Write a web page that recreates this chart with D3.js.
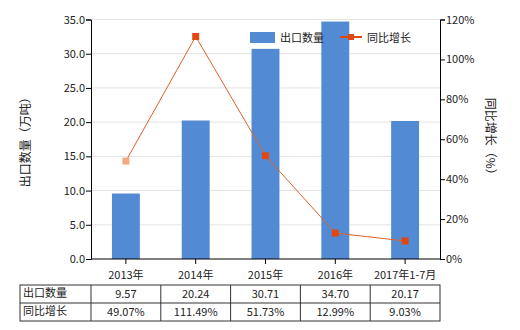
<!DOCTYPE html>
<html>
<head>
<meta charset="utf-8">
<script src="https://cdn.jsdelivr.net/npm/d3@7"></script>
<style>
  body { margin: 0; background: #fff; }
  text { font-family: "Noto Sans CJK SC", "Noto Sans", sans-serif; fill: #222; }
</style>
</head>
<body>
<div id="chart"></div>
<script>
// Data
const categories = ["2013年", "2014年", "2015年", "2016年", "2017年1-7月"];
const quantity = [9.57, 20.24, 30.71, 34.70, 20.17];
const growth = [49.07, 111.49, 51.73, 12.99, 9.03];
const leftTicks = [0, 5, 10, 15, 20, 25, 30, 35];
const rightTicks = [0, 20, 40, 60, 80, 100, 120];

const width = 520, height = 330;
const plotLeft = 91, plotRight = 440, plotTop = 19.5, plotBottom = 259;

const svg = d3.select("#chart").append("svg")
    .attr("width", width)
    .attr("height", height);

const x = d3.scaleBand().domain(categories).range([plotLeft, plotRight]).paddingInner(0.6).paddingOuter(0.3);
const yL = d3.scaleLinear().domain([0, 35]).range([plotBottom, plotTop]);
const yR = d3.scaleLinear().domain([0, 120]).range([plotBottom, plotTop]);

// gridlines
svg.append("g").selectAll("line").data(leftTicks.slice(1)).enter().append("line")
    .attr("x1", plotLeft).attr("x2", plotRight)
    .attr("y1", d => yL(d)).attr("y2", d => yL(d))
    .attr("stroke", "#e3e3e3").attr("stroke-width", 1);

// bars
svg.append("g").selectAll("rect").data(quantity).enter().append("rect")
    .attr("x", (d, i) => x(categories[i]))
    .attr("width", x.bandwidth())
    .attr("y", d => yL(d))
    .attr("height", d => plotBottom - yL(d))
    .attr("fill", "#528bd4");

// axes
const axL = svg.append("g").attr("transform", `translate(${plotLeft},0)`)
    .call(d3.axisLeft(yL).tickValues(leftTicks).tickFormat(d3.format(".1f")).tickSizeOuter(0).tickSize(5));
const axR = svg.append("g").attr("transform", `translate(${plotRight},0)`)
    .call(d3.axisRight(yR).tickValues(rightTicks).tickFormat(d => d + "%").tickSizeOuter(0).tickSize(5));
const axB = svg.append("g").attr("transform", `translate(0,${plotBottom})`)
    .call(d3.axisBottom(x).tickSize(5).tickSizeOuter(0));
axB.select(".domain").attr("d", `M${plotLeft},0H${plotRight}`);
[axL, axR, axB].forEach(a => {
    a.selectAll("text").style("font-size", "11px").attr("fill", "#222");
    a.selectAll("line, .domain").attr("stroke", "#000");
});
axL.selectAll("text").attr("x", -6);
axR.selectAll("text").attr("x", 6);
axB.selectAll("text").attr("dy", "1.1em");

// growth line
const line = d3.line()
    .x((d, i) => x(categories[i]) + x.bandwidth() / 2)
    .y(d => yR(d));
svg.append("path").datum(growth)
    .attr("d", line)
    .attr("fill", "none")
    .attr("stroke", "#e0602a")
    .attr("stroke-width", 1);
svg.append("g").selectAll("rect").data(growth).enter().append("rect")
    .attr("x", (d, i) => x(categories[i]) + x.bandwidth() / 2 - 3.5)
    .attr("y", d => yR(d) - 3.5)
    .attr("width", 7).attr("height", 7)
    .attr("fill", (d, i) => i === 0 ? "#f4a97c" : "#e0480f");

// axis titles
svg.append("text")
    .attr("transform", `translate(30,${(plotTop + plotBottom) / 2}) rotate(-90)`)
    .attr("text-anchor", "middle")
    .style("font-size", "12px")
    .text("出口数量（万吨）");
svg.append("text")
    .attr("transform", `translate(486,${(plotTop + plotBottom) / 2}) rotate(90)`)
    .attr("text-anchor", "middle")
    .style("font-size", "12px")
    .text("同比增长（%）");

// legend
const lg = svg.append("g");
lg.append("rect").attr("x", 250).attr("y", 32).attr("width", 25).attr("height", 11).attr("fill", "#528bd4");
lg.append("text").attr("x", 280).attr("y", 42).style("font-size", "11px").text("出口数量");
lg.append("line").attr("x1", 340).attr("x2", 362).attr("y1", 37).attr("y2", 37)
    .attr("stroke", "#e0480f").attr("stroke-width", 2);
lg.append("rect").attr("x", 348).attr("y", 34).attr("width", 6).attr("height", 6).attr("fill", "#e0480f");
lg.append("text").attr("x", 367).attr("y", 42).style("font-size", "11px").text("同比增长");

// table
const tTop = 285, rowH = 18, tLeft = 20;
const rows = [
    { name: "出口数量", vals: quantity.map(d => d.toFixed(2)) },
    { name: "同比增长", vals: growth.map(d => d.toFixed(2) + "%") }
];
const tb = svg.append("g");
tb.append("rect").attr("x", tLeft).attr("y", tTop).attr("width", plotRight - tLeft).attr("height", rowH * 2)
    .attr("fill", "none").attr("stroke", "#333");
tb.append("line").attr("x1", tLeft).attr("x2", plotRight).attr("y1", tTop + rowH).attr("y2", tTop + rowH).attr("stroke", "#333");
const colEdges = [plotLeft].concat(categories.slice(0, -1).map(c => x(c) + x.bandwidth() / 2 + x.step() / 2));
tb.selectAll("line.col").data(colEdges).enter().append("line")
    .attr("class", "col")
    .attr("x1", d => d).attr("x2", d => d)
    .attr("y1", tTop).attr("y2", tTop + rowH * 2)
    .attr("stroke", "#333");
rows.forEach((r, ri) => {
    const yy = tTop + ri * rowH + 13;
    tb.append("text").attr("x", tLeft + 3).attr("y", yy - 1).style("font-size", "11px").text(r.name);
    tb.selectAll(null).data(r.vals).enter().append("text")
        .attr("x", (d, i) => x(categories[i]) + x.bandwidth() / 2)
        .attr("y", yy)
        .attr("text-anchor", "middle")
        .style("font-size", "11px")
        .text(d => d);
});
</script>
</body>
</html>
